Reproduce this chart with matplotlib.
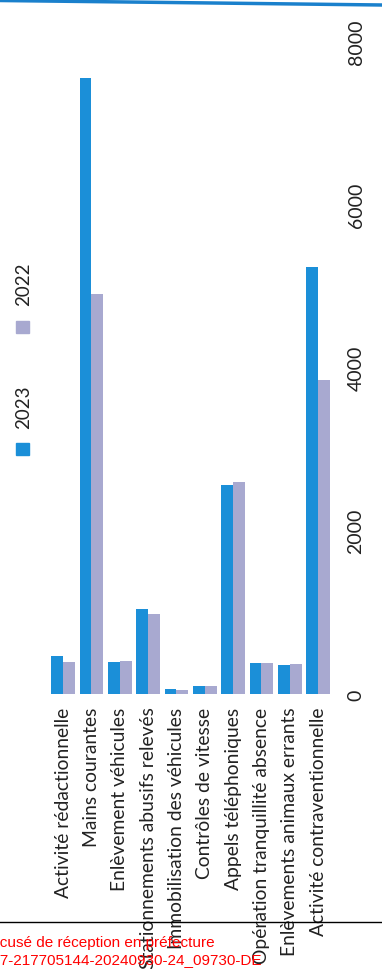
import matplotlib
matplotlib.use("Agg")
from matplotlib import pyplot as plt
from matplotlib.patches import Rectangle
from matplotlib.lines import Line2D
import numpy as np

# Activity figures, police municipale
categories = [
    "Activité rédactionnelle",
    "Mains courantes",
    "Enlèvement véhicules",
    "Stationnements abusifs relevés",
    "Immobilisation des véhicules",
    "Contrôles de vitesse",
    "Appels téléphoniques",
    "Opération tranquillité absence",
    "Enlèvements animaux errants",
    "Activité contraventionnelle",
]
values_2023 = [460, 7550, 390, 1040, 60, 100, 2560, 380, 360, 5230]
values_2022 = [390, 4900, 400, 980, 50, 100, 2600, 380, 370, 3850]
years = ["2023", "2022"]
value_ticks = [0, 2000, 4000, 6000, 8000]

blue = "#1b8fd8"
lavender = "#a8a9d0"

plt.rcParams['font.family'] = ['Lato', 'DejaVu Sans']

fig = plt.figure(figsize=(3.82, 9.70), dpi=100)
ax = fig.add_axes([0.128, 0.2835, 0.742, 0.673])

x = np.arange(len(categories))
w = 0.415
ax.bar(x - w / 2, values_2023, width=w, color=blue)
ax.bar(x + w / 2, values_2022, width=w, color=lavender)

ax.set_xlim(-0.5, len(categories) - 0.5)
ax.set_ylim(0, 8000)
ax.set_xticks(x)
ax.set_xticklabels(categories, rotation=90, fontsize=13.9, color="#222222")
ax.yaxis.tick_right()
ax.set_yticks(value_ticks)
ax.set_yticklabels([str(v) for v in value_ticks], rotation=90, va="center",
                   fontsize=14, color="#222222")
ax.tick_params(axis="both", length=0)
ax.tick_params(axis="x", pad=9)
ax.tick_params(axis="y", pad=11)
for s in ax.spines.values():
    s.set_visible(False)

# legend drawn sideways, reading bottom to top
W, H = 382, 970
for name, col, sq_y, txt_y in [(years[0], blue, 450, 407), (years[1], lavender, 328, 284)]:
    fig.patches.append(Rectangle((16 / W, 1 - (sq_y + 6) / H), 13 / W, 12 / H,
                                 transform=fig.transFigure, color=col))
    fig.text(23.5 / W, 1 - txt_y / H, name, rotation=90, ha="center", va="center",
             fontsize=13.5, color="#222222")

# page marks around the chart
fig.add_artist(Line2D([0, 1], [1 - 1.5 / H, 1 - 6 / H], transform=fig.transFigure,
                      color="#1a80cc", lw=2.5))
fig.add_artist(Line2D([0, 1], [1 - 923 / H, 1 - 923 / H], transform=fig.transFigure,
                      color="black", lw=1))
fig.text(-18 / W, 1 - 943 / H, "Accusé de réception en préfecture", color="red",
         fontsize=11, family="Liberation Sans", va="center", ha="left")
fig.text(-17 / W, 1 - 960 / H, "077-217705144-20240930-24_09730-DE", color="red",
         fontsize=11, family="Liberation Sans", va="center", ha="left")

fig.savefig("out.png", dpi=100)
